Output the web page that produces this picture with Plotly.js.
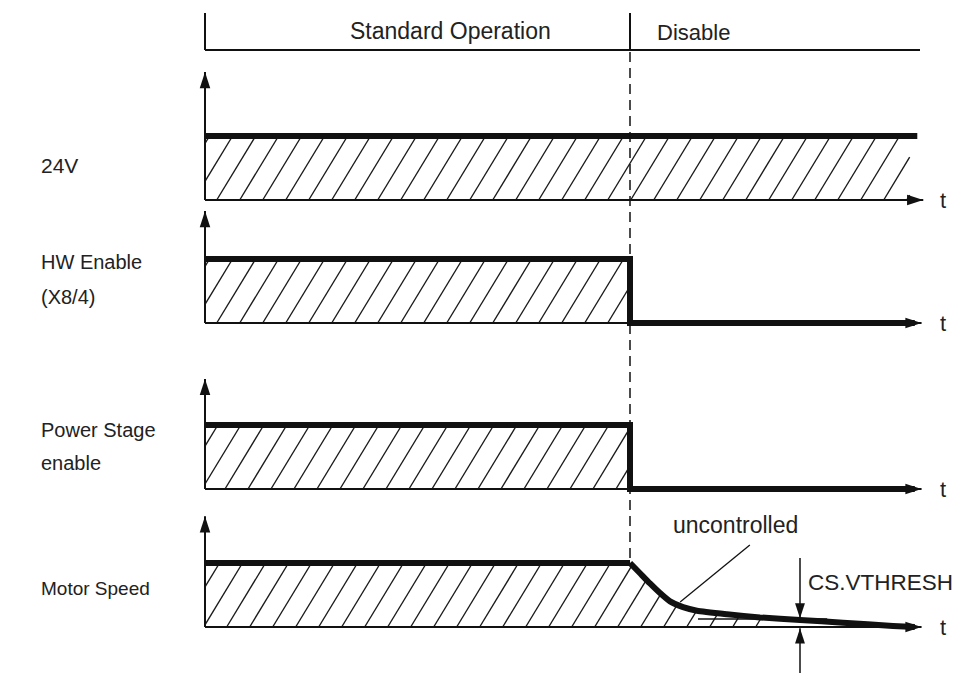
<!DOCTYPE html>
<html><head><meta charset="utf-8">
<script src="https://cdn.plot.ly/plotly-3.0.1.min.js"></script>
<style>html,body{margin:0;padding:0;background:#fff}#chart{width:959px;height:678px}</style>
</head><body><div id="chart"></div>
<script>
// ---------------- data (time in arbitrary units, level 0 = off, 1 = on) ----------------
const tDisable = 5.0;
const phaseLabels = ['Standard Operation', 'Disable'];
const signalLabels = [['24V'], ['HW Enable', '(X8/4)'], ['Power Stage', 'enable'], ['Motor Speed']];

const t24V = [0, 8.38];
const v24V = [1, 1];

const tHwEnable = [0, 5.0, 5.0, 8.35];
const vHwEnable = [1, 1, 0, 0];

const tPowerStage = [0, 5.0, 5.0, 8.35];
const vPowerStage = [1, 1, 0, 0];

const tMotor = [0, 5.0, 5.118, 5.235, 5.353, 5.471, 5.624, 5.788, 6.141, 6.529, 7.0, 7.506, 8.094, 8.35];
const vMotor = [1, 1, 0.84, 0.68, 0.53, 0.40, 0.31, 0.255, 0.20, 0.15, 0.11, 0.067, 0.016, 0.0];

const vThresh = 0.125;          // CS.VTHRESH level
const tThresh = [5.8, 7.32];    // extent of threshold line
const tThreshMark = 7.0;        // where the threshold arrows sit

// ---------------- layout constants ----------------
const W = 959, H = 678;
const PX0 = 205, PXT = 85, UNIT = 64;        // px of t=0, px per time unit, px per level unit
const basePx = [200, 323, 489, 627];          // baseline pixel rows of the 4 panels
const axisTop = [2.0, 1.75, 1.72, 1.73];      // heights of vertical axis arrows (levels)
const axisEnd = [8.45, 8.43, 8.43, 8.43];     // t of horizontal arrow tips
const hatchEnd = [8.29, tDisable, tDisable, 6.7];
const hatchPhase = [0.138, 0.138, 0.235, 0.255];
const labelRows = [[165], [262, 297], [430, 463], [588]];
const labelSize = [21, 20, 20, 19];
const INK = '#111';
const FONT = 'Liberation Sans, Arial, Helvetica, sans-serif';

const tOfPx = px => (px - PX0) / PXT;
const pap = px => 1 - px / H;

function interp(ts, vs, t) {
  for (let i = 0; i < ts.length - 1; i++) {
    if (t >= ts[i] && t <= ts[i + 1] && ts[i + 1] > ts[i]) {
      const f = (t - ts[i]) / (ts[i + 1] - ts[i]);
      return vs[i] + f * (vs[i + 1] - vs[i]);
    }
  }
  return t < ts[0] ? vs[0] : vs[vs.length - 1];
}

function hatch(ts, vs, tEnd, phase) {
  const slope = 1.65 * PXT / UNIT;
  const sp = 23 / PXT;
  const xs = [], ys = [];
  for (let tb = phase - 40 * sp; tb < tEnd; tb += sp) {
    const t0 = Math.max(tb, 0);
    const y0 = (t0 - tb) * slope;
    if (y0 >= interp(ts, vs, t0)) continue;
    let t1 = t0;
    const dt = 0.001;
    while (t1 < tEnd && (t1 - tb) * slope < interp(ts, vs, t1)) t1 += dt;
    if (t1 > tEnd) t1 = tEnd;
    const y1 = Math.min((t1 - tb) * slope, interp(ts, vs, t1));
    xs.push(t0, t1, null); ys.push(y0, y1, null);
  }
  return {xs, ys};
}

const series = [[t24V, v24V], [tHwEnable, vHwEnable], [tPowerStage, vPowerStage], [tMotor, vMotor]];
const yName = i => (i === 0 ? 'y' : 'y' + (i + 1));

const traces = [];
series.forEach(([ts, vs], i) => {
  const h = hatch(ts, vs, hatchEnd[i], hatchPhase[i]);
  traces.push({x: h.xs, y: h.ys, yaxis: yName(i), mode: 'lines', line: {color: '#1a1a1a', width: 1.4}, hoverinfo: 'skip'});
});
// baselines (thin) and vertical axes
series.forEach(([ts, vs], i) => {
  traces.push({x: [0, axisEnd[i]], y: [0, 0], yaxis: yName(i), mode: 'lines', line: {color: INK, width: 2}, hoverinfo: 'skip'});
  traces.push({x: [0, 0], y: [0, axisTop[i]], yaxis: yName(i), mode: 'lines', line: {color: INK, width: 2}, hoverinfo: 'skip'});
});
// threshold line
traces.push({x: tThresh, y: [vThresh, vThresh], yaxis: 'y4', mode: 'lines', line: {color: INK, width: 1.3}, hoverinfo: 'skip'});
// leader line for "uncontrolled"
traces.push({x: [5.59, 6.41], y: [0.39, 1.28], yaxis: 'y4', mode: 'lines', line: {color: INK, width: 1.3}, hoverinfo: 'skip'});
// threshold arrow shafts
traces.push({x: [tThreshMark, tThreshMark, null, tThreshMark, tThreshMark], y: [1.08, vThresh + 0.01, null, -0.72, -0.02], yaxis: 'y4', mode: 'lines', line: {color: INK, width: 1.5}, hoverinfo: 'skip'});
// signal lines (thick)
series.forEach(([ts, vs], i) => {
  if (i === 3) {
    // flat part straight, run-down part smoothed
    traces.push({x: ts.slice(0, 2), y: vs.slice(0, 2), yaxis: yName(i), mode: 'lines', line: {color: INK, width: 6}, hoverinfo: 'skip'});
    traces.push({x: ts.slice(1), y: vs.slice(1), yaxis: yName(i), mode: 'lines', line: {color: INK, width: 6, shape: 'spline', smoothing: 0.5}, hoverinfo: 'skip'});
  } else {
    traces.push({x: ts, y: vs, yaxis: yName(i), mode: 'lines', line: {color: INK, width: 6}, hoverinfo: 'skip'});
  }
});
// arrowheads
series.forEach(([ts, vs], i) => {
  traces.push({x: [axisEnd[i], 0], y: [0, axisTop[i]], yaxis: yName(i), mode: 'markers',
    marker: {symbol: 'arrow', size: 17, angle: [90, 0], color: INK}, hoverinfo: 'skip'});
});
traces.push({x: [tThreshMark, tThreshMark], y: [vThresh + 0.01, -0.02], yaxis: 'y4', mode: 'markers',
  marker: {symbol: 'arrow', size: 16, angle: [180, 0], color: INK}, hoverinfo: 'skip'});

const layout = {
  width: W, height: H, margin: {l: 0, r: 0, t: 0, b: 0},
  paper_bgcolor: '#fff', plot_bgcolor: '#fff', showlegend: false,
  xaxis: {range: [tOfPx(0), tOfPx(W)], visible: false, fixedrange: true},
  shapes: [
    {type: 'line', xref: 'x', yref: 'paper', x0: 0, x1: 0, y0: pap(13), y1: pap(50), line: {color: INK, width: 2}},
    {type: 'line', xref: 'x', yref: 'paper', x0: tDisable, x1: tDisable, y0: pap(13), y1: pap(50), line: {color: INK, width: 2}},
    {type: 'line', xref: 'x', yref: 'paper', x0: 0, x1: tOfPx(920), y0: pap(50), y1: pap(50), line: {color: INK, width: 2}},
    {type: 'line', xref: 'x', yref: 'paper', x0: tDisable, x1: tDisable, y0: pap(52), y1: pap(562), line: {color: INK, width: 1.5, dash: '10px,6px'}}
  ],
  annotations: []
};
basePx.forEach((b, i) => {
  const key = i === 0 ? 'yaxis' : 'yaxis' + (i + 1);
  layout[key] = {range: [(b - H) / UNIT, b / UNIT], domain: [0, 1], visible: false, fixedrange: true};
  if (i > 0) layout[key].overlaying = 'y';
});
const ann = (o, size) => layout.annotations.push(Object.assign({showarrow: false, font: {family: FONT, size: size || 22, color: '#222'}}, o));
ann({text: phaseLabels[0], xref: 'x', yref: 'paper', x: tOfPx(450), y: pap(31), xanchor: 'center', yanchor: 'middle'}, 23);
ann({text: phaseLabels[1], xref: 'x', yref: 'paper', x: tOfPx(655), y: pap(33), xanchor: 'left', yanchor: 'middle'}, 22);
signalLabels.forEach((lines, i) => {
  lines.forEach((s, j) => {
    ann({text: s, xref: 'x', yref: 'paper', x: tOfPx(39), y: pap(labelRows[i][j]), xanchor: 'left', yanchor: 'middle'}, labelSize[i]);
  });
  ann({text: 't', xref: 'x', yref: yName(i), x: tOfPx(943), y: 0, xanchor: 'center', yanchor: 'middle'}, 22);
});
ann({text: 'uncontrolled', xref: 'x', yref: 'y4', x: tOfPx(735), y: 1.59, xanchor: 'center', yanchor: 'middle'}, 23);
ann({text: 'CS.VTHRESH', xref: 'x', yref: 'y4', x: tOfPx(806), y: 0.69, xanchor: 'left', yanchor: 'middle'}, 22.5);

Plotly.newPlot('chart', traces, layout, {staticPlot: true, displayModeBar: false});
</script></body></html>
